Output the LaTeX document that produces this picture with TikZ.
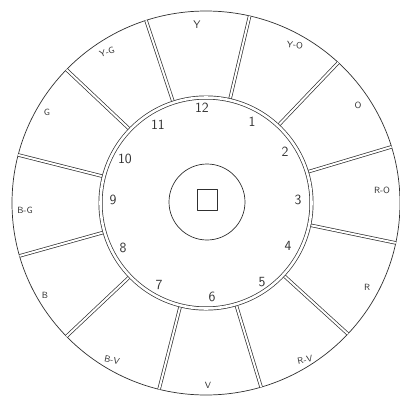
\documentclass[tikz,border=0pt]{standalone}
\usetikzlibrary{calc}
\definecolor{ink}{HTML}{303030}
\begin{document}
\begin{tikzpicture}[x=1pt,y=-1pt, line join=round,
  ring/.style={draw=ink, line width=0.7pt, double=white, double distance=2.6pt},
  spoke/.style={draw=ink, line width=0.7pt, double=white, double distance=2pt},
  thin/.style={draw=ink, line width=0.7pt},
  num/.style={font=\sffamily\fontsize{14}{14}\selectfont, text=ink, inner sep=0pt},
  lab/.style={font=\sffamily\fontsize{9}{9}\selectfont, text=ink, inner sep=0pt}]
\useasboundingbox (0,0) rectangle (400,397);
\coordinate (c) at (206,203);
\draw[thin] (c) ellipse [x radius=194, y radius=192];
\foreach \a in {108,77,47,17,-12,-43,-73.5,-104,224,196,165.5,136}
  \draw[spoke] ($(c)+(-\a:107.2)$) -- ($(c)+(-\a:194 and 192)$);
\draw[ring] (c) circle[radius=105.5];
\draw[thin] (207,202) circle[radius=38];
\draw[thin] (197,189) rectangle (217,210);
% clock numbers
\node[num] (n12) at (202,108) {12};
\node[num] (n1) at (252,122) {1};
\node[num] (n2) at (285,152) {2};
\node[num] (n3) at (298,200) {3};
\node[num] (n4) at (288,246) {4};
\node[num] (n5) at (262,282) {5};
\node[num] (n6) at (212,297) {6};
\node[num] (n7) at (159,285) {7};
\node[num] (n8) at (123,248) {8};
\node[num] (n9) at (113,200) {9};
\node[num] (n10) at (125,159) {10};
\node[num] (n11) at (158,125) {11};
% colour labels
\node[lab, font=\sffamily\fontsize{11}{11}\selectfont] (y) at (197,25) {Y};
\node[lab, rotate=-5] (yo) at (295,45) {Y-O};
\node[lab] (o) at (358,105) {O};
\node[lab] (ro) at (382,190) {R-O};
\node[lab] (r) at (367,287) {R};
\node[lab, rotate=12] (rv) at (305,360) {R-V};
\node[lab] (v) at (208,385) {V};
\node[lab, rotate=-12] (bv) at (112,360) {B-V};
\node[lab] (b) at (45,295) {B};
\node[lab] (bg) at (25,210) {B-G};
\node[lab] (g) at (47,112) {G};
\node[lab, rotate=18] (yg) at (107,52) {Y-G};
\end{tikzpicture}
\end{document}
